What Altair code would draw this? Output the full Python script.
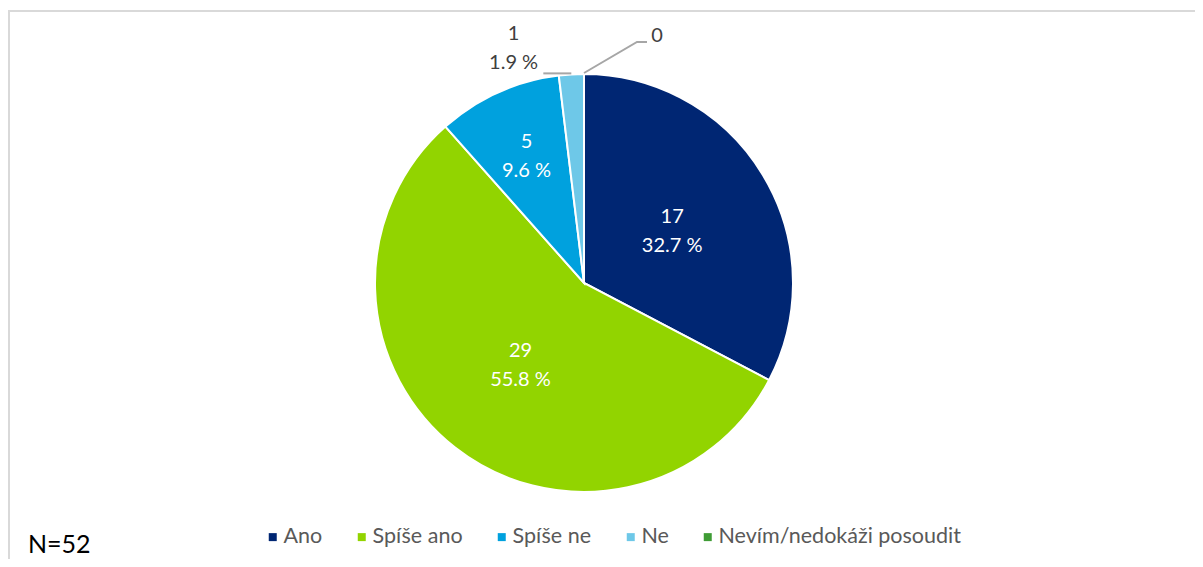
import math
import altair as alt
import pandas as pd

# ---- data ----
categories = ["Ano", "Spíše ano", "Spíše ne", "Ne", "Nevím/nedokáži posoudit"]
counts = [17, 29, 5, 1, 0]
colors = ["#002673", "#92D400", "#00A1DE", "#6EC8E8", "#3F9C35"]
n_total = 52

# ---- style constants ----
W, H = 1187, 551
CX, CY = 576, 275
R = 209
FONT = "Lato"

pct = [c / n_total * 100 for c in counts]
labels = [f"{c}\n{p:.1f} %" for c, p in zip(counts, pct)]

df = pd.DataFrame({
    "cat": categories,
    "count": counts,
    "ord": list(range(len(categories))),
    "lab_main": [labels[0], labels[1], "", "", ""],
    "lab_spne": ["", "", labels[2], "", ""],
    "lab_ne": ["", "", "", labels[3], ""],
    "lab_zero": ["", "", "", "", str(counts[4])],
})

color_scale = alt.Scale(domain=categories, range=colors)
theta = alt.Theta("count:Q", stack=True)
order = alt.Order("ord:Q")
cx = alt.value(CX)
cy = alt.value(CY)

base = alt.Chart(df)

pie = base.mark_arc(outerRadius=R, stroke="white", strokeWidth=2).encode(
    theta=theta,
    order=order,
    x=cx, y=cy,
    color=alt.Color(
        "cat:N", scale=color_scale, sort=categories,
        legend=alt.Legend(
            title=None, orient="none", direction="horizontal",
            legendX=254, legendY=518, symbolType="square", symbolSize=64,
            symbolStrokeWidth=0, labelFont=FONT, labelFontSize=21.5,
            labelColor="#595959", labelOffset=0, columnPadding=28,
            padding=0, labelLimit=500,
        ),
    ),
)


def text_layer(field, radius, color, dx=0, dy=0):
    return base.mark_text(
        radius=radius, font=FONT, fontSize=20, color=color, lineBreak="\n",
        lineHeight=29, align="center", baseline="middle", dx=dx, dy=dy,
    ).encode(theta=theta, order=order, x=cx, y=cy, text=alt.Text(f"{field}:N"))


t_main = text_layer("lab_main", 103, "white", dy=-13)
t_spne = text_layer("lab_spne", 140, "white", dy=-13)
t_ne = text_layer("lab_ne", 222, "#404040", dx=-57, dy=-27)
t_zero = text_layer("lab_zero", 222, "#404040", dx=73, dy=-25)

# leader lines, anchored on the slice edge at each slice's mid-angle
cum = 0
mid = []
for c in counts:
    mid.append((cum + c / 2) / n_total * 2 * math.pi)
    cum += c
leaders = []
for grp, idx, offs in [("ne", 3, [(0, 0), (-28, 0)]),
                       ("zero", 4, [(0, 0), (53, -31), (63, -31)])]:
    ex = CX + (R + 1) * math.sin(mid[idx])
    ey = CY - (R + 1) * math.cos(mid[idx])
    for k, (ox, oy) in enumerate(offs):
        leaders.append({"g": grp, "k": k, "px": ex + ox, "py": ey + oy})
lead = alt.Chart(pd.DataFrame(leaders)).mark_line(
    color="#A6A6A6", strokeWidth=2
).encode(
    x=alt.X("px:Q", scale=None), y=alt.Y("py:Q", scale=None),
    detail="g:N", order="k:Q",
)

frame = alt.Chart(pd.DataFrame({"a": [0]})).mark_rect(
    fill=None, stroke="#D9D9D9", strokeWidth=2
).encode(x=alt.value(1), y=alt.value(3), x2=alt.value(W + 20), y2=alt.value(H + 20))

ntext = alt.Chart(pd.DataFrame({"t": [f"N={n_total}"]})).mark_text(
    font=FONT, fontSize=25, color="#000000", align="left", baseline="middle"
).encode(x=alt.value(20), y=alt.value(537), text="t:N")

chart = alt.layer(frame, pie, lead, t_main, t_spne, t_ne, t_zero, ntext).properties(
    width=W, height=H,
    autosize=alt.AutoSizeParams(type="none"),
    padding=0,
).configure_view(stroke=None)

chart.save("out.html", embed_options={"renderer": "svg", "actions": False})
